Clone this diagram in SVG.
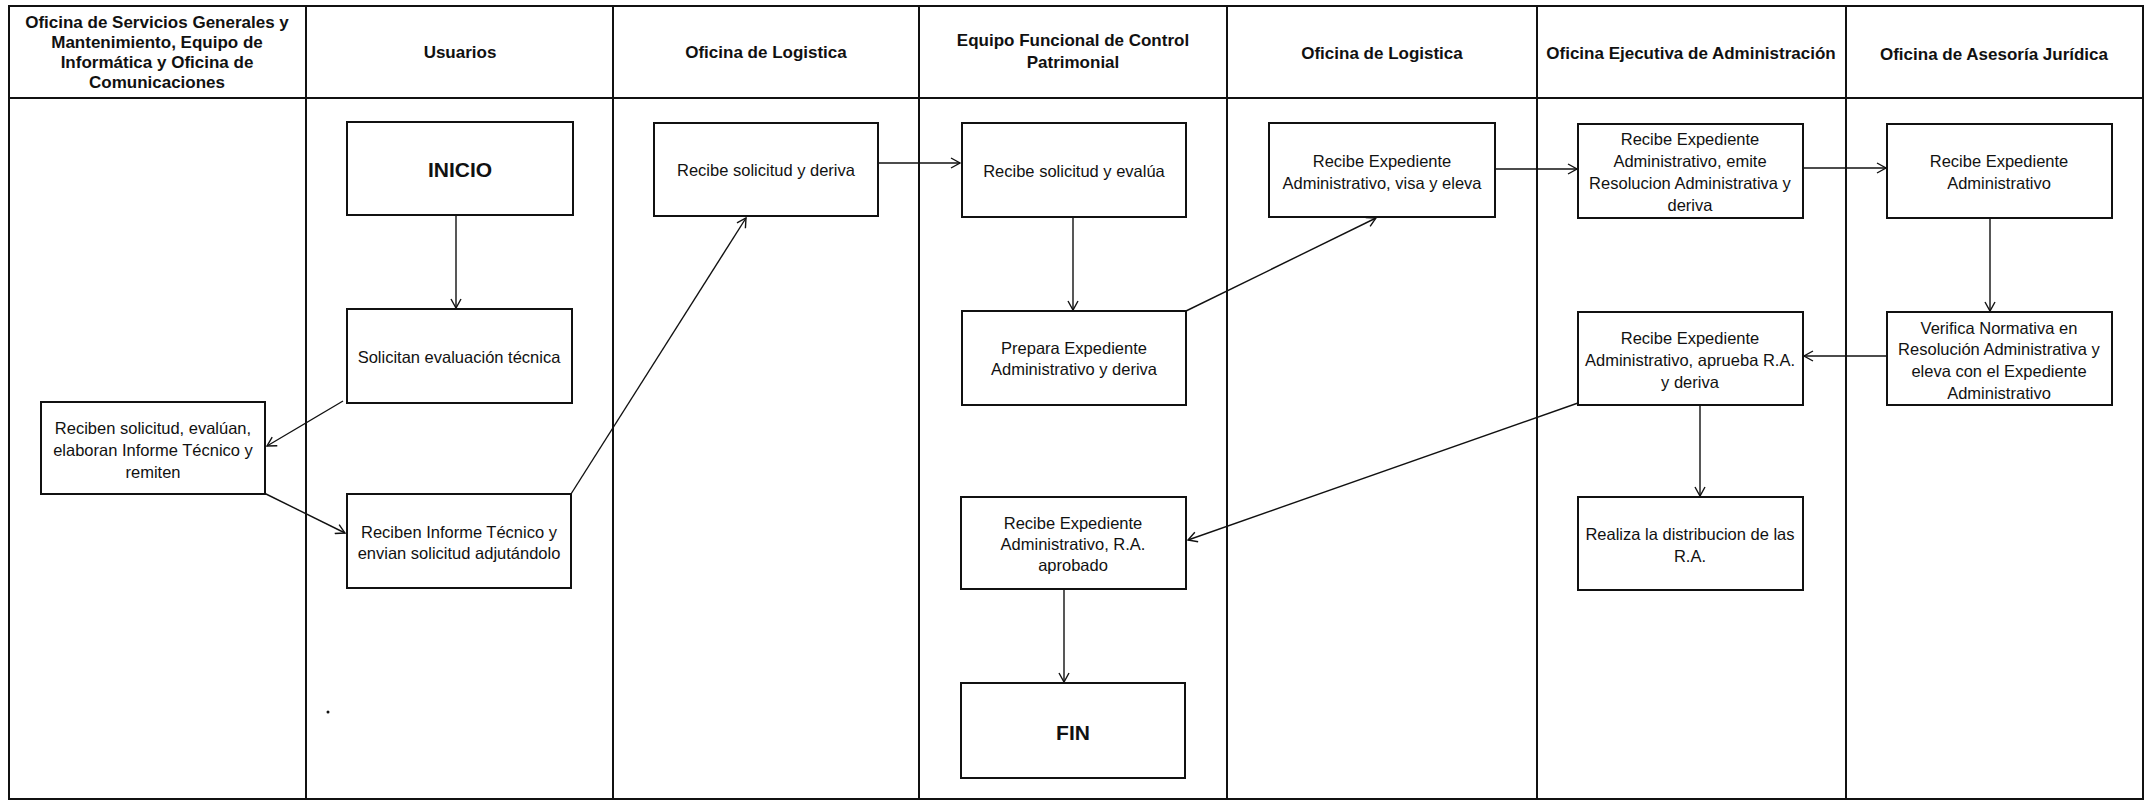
<svg xmlns="http://www.w3.org/2000/svg" width="2146" height="802" viewBox="0 0 2146 802">
<defs>
<marker id="arr" markerWidth="12" markerHeight="12" refX="10" refY="6" orient="auto" markerUnits="userSpaceOnUse">
<path d="M1,1 L10,6 L1,11" fill="none" stroke="#111" stroke-width="1.4"/>
</marker>
<style>
.lane{fill:none;stroke:#111;stroke-width:2}
.box{fill:#fff;stroke:#111;stroke-width:2}
.hd{font-family:"Liberation Sans",Arial,sans-serif;font-size:17px;font-weight:bold;fill:#111;text-anchor:middle}
.t{font-family:"Liberation Sans",Arial,sans-serif;font-size:16.5px;fill:#111;text-anchor:middle}
.big{font-family:"Liberation Sans",Arial,sans-serif;font-size:21px;font-weight:bold;fill:#111;text-anchor:middle}
.c{fill:none;stroke:#111;stroke-width:1.4;marker-end:url(#arr)}
</style>
</defs>
<rect width="2146" height="802" fill="#fff"/>
<g id="lanes">
<rect class="lane" x="9" y="6" width="2134" height="793"/>
<line class="lane" x1="9" y1="98" x2="2143" y2="98"/>
<line class="lane" x1="306" y1="6" x2="306" y2="799"/>
<line class="lane" x1="613" y1="6" x2="613" y2="799"/>
<line class="lane" x1="919" y1="6" x2="919" y2="799"/>
<line class="lane" x1="1227" y1="6" x2="1227" y2="799"/>
<line class="lane" x1="1537" y1="6" x2="1537" y2="799"/>
<line class="lane" x1="1846" y1="6" x2="1846" y2="799"/>
<text class="hd" x="157" y="28">Oficina de Servicios Generales y</text>
<text class="hd" x="157" y="48">Mantenimiento, Equipo de</text>
<text class="hd" x="157" y="68">Informática y Oficina de</text>
<text class="hd" x="157" y="88">Comunicaciones</text>
<text class="hd" x="460" y="58">Usuarios</text>
<text class="hd" x="766" y="58">Oficina de Logistica</text>
<text class="hd" x="1073" y="46">Equipo Funcional de Control</text>
<text class="hd" x="1073" y="68">Patrimonial</text>
<text class="hd" x="1382" y="59">Oficina de Logistica</text>
<text class="hd" x="1691" y="59">Oficina Ejecutiva de Administración</text>
<text class="hd" x="1994" y="60">Oficina de Asesoría Jurídica</text>
<circle cx="328" cy="712" r="1.5" fill="#111"/>
</g>
<g id="connectors">
<line class="c" x1="456" y1="215" x2="456" y2="308"/>
<line class="c" x1="343" y1="401" x2="267" y2="446"/>
<line class="c" x1="264" y1="493" x2="345" y2="533"/>
<line class="c" x1="571" y1="494" x2="746" y2="218"/>
<line class="c" x1="878" y1="163" x2="960" y2="163"/>
<line class="c" x1="1073" y1="217" x2="1073" y2="310"/>
<line class="c" x1="1186" y1="311" x2="1376" y2="218"/>
<line class="c" x1="1495" y1="169" x2="1577" y2="169"/>
<line class="c" x1="1803" y1="168" x2="1886" y2="168"/>
<line class="c" x1="1990" y1="218" x2="1990" y2="311"/>
<line class="c" x1="1887" y1="356" x2="1804" y2="356"/>
<line class="c" x1="1578" y1="403" x2="1188" y2="540"/>
<line class="c" x1="1700" y1="405" x2="1700" y2="496"/>
<line class="c" x1="1064" y1="589" x2="1064" y2="682"/>
</g>
<g id="n-inicio"><rect class="box" x="347" y="122" width="226" height="93"/><text class="big" x="460" y="177">INICIO</text></g>
<g id="n-solicitan"><rect class="box" x="347" y="309" width="225" height="94"/><text class="t" x="459" y="363">Solicitan evaluación técnica</text></g>
<g id="n-reciben-sol"><rect class="box" x="41" y="402" width="224" height="92"/><text class="t" x="153" y="434">Reciben solicitud, evalúan,</text><text class="t" x="153" y="456">elaboran Informe Técnico y</text><text class="t" x="153" y="478">remiten</text></g>
<g id="n-reciben-inf"><rect class="box" x="347" y="494" width="224" height="94"/><text class="t" x="459" y="538">Reciben Informe Técnico y</text><text class="t" x="459" y="559">envian solicitud adjutándolo</text></g>
<g id="n-log1"><rect class="box" x="654" y="123" width="224" height="93"/><text class="t" x="766" y="176">Recibe solicitud y deriva</text></g>
<g id="n-evalua"><rect class="box" x="962" y="123" width="224" height="94"/><text class="t" x="1074" y="177">Recibe solicitud y evalúa</text></g>
<g id="n-prepara"><rect class="box" x="962" y="311" width="224" height="94"/><text class="t" x="1074" y="354">Prepara Expediente</text><text class="t" x="1074" y="375">Administrativo y deriva</text></g>
<g id="n-aprobado"><rect class="box" x="961" y="497" width="225" height="92"/><text class="t" x="1073" y="529">Recibe Expediente</text><text class="t" x="1073" y="550">Administrativo, R.A.</text><text class="t" x="1073" y="571">aprobado</text></g>
<g id="n-fin"><rect class="box" x="961" y="683" width="224" height="95"/><text class="big" x="1073" y="740">FIN</text></g>
<g id="n-visa"><rect class="box" x="1269" y="123" width="226" height="94"/><text class="t" x="1382" y="167">Recibe Expediente</text><text class="t" x="1382" y="189">Administrativo, visa y eleva</text></g>
<g id="n-emite"><rect class="box" x="1578" y="124" width="225" height="94"/><text class="t" x="1690" y="145">Recibe Expediente</text><text class="t" x="1690" y="167">Administrativo, emite</text><text class="t" x="1690" y="189">Resolucion Administrativa  y</text><text class="t" x="1690" y="211">deriva</text></g>
<g id="n-asesoria"><rect class="box" x="1887" y="124" width="225" height="94"/><text class="t" x="1999" y="167">Recibe Expediente</text><text class="t" x="1999" y="189">Administrativo</text></g>
<g id="n-verifica"><rect class="box" x="1887" y="312" width="225" height="93"/><text class="t" x="1999" y="334">Verifica Normativa en</text><text class="t" x="1999" y="355">Resolución Administrativa y</text><text class="t" x="1999" y="377">eleva con el Expediente</text><text class="t" x="1999" y="399">Administrativo</text></g>
<g id="n-aprueba"><rect class="box" x="1578" y="312" width="225" height="93"/><text class="t" x="1690" y="344">Recibe Expediente</text><text class="t" x="1690" y="366">Administrativo, aprueba R.A.</text><text class="t" x="1690" y="388">y deriva</text></g>
<g id="n-realiza"><rect class="box" x="1578" y="497" width="225" height="93"/><text class="t" x="1690" y="540">Realiza la distribucion de las</text><text class="t" x="1690" y="562">R.A.</text></g>
</svg>
